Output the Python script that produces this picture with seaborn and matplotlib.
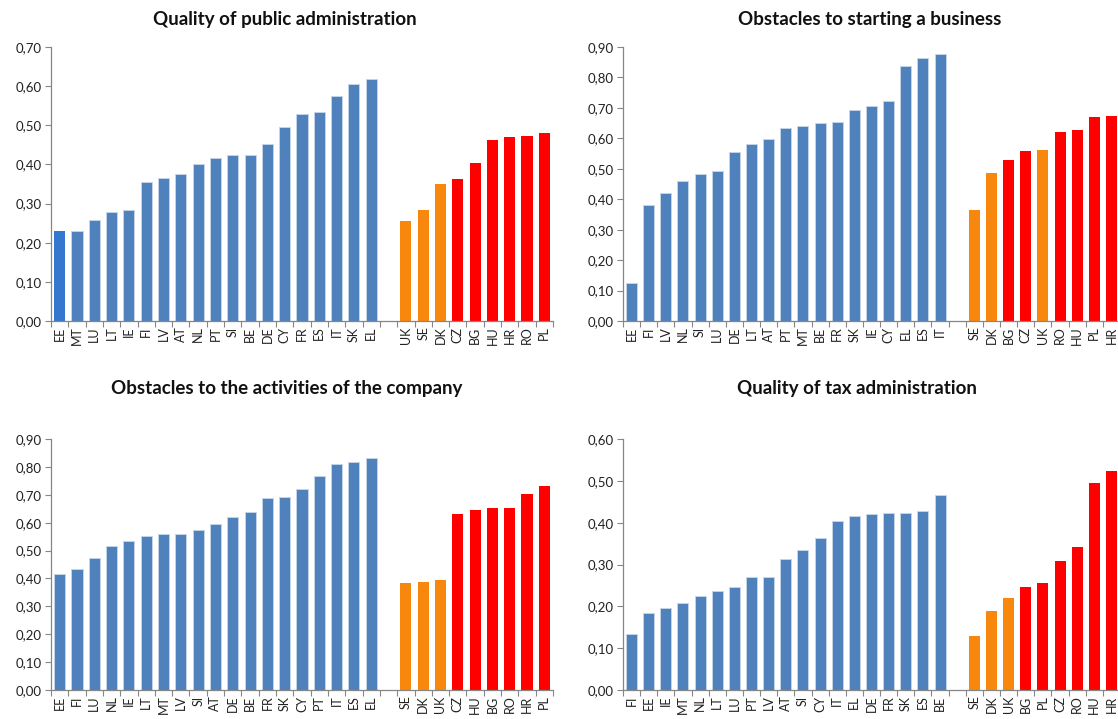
import matplotlib
matplotlib.use("Agg")
import matplotlib.pyplot as plt
import seaborn as sns
import pandas as pd
from matplotlib.ticker import FuncFormatter, MultipleLocator, FixedLocator

sns.set_style("ticks")
plt.rcParams['font.family'] = ['Lato', 'DejaVu Sans']

# ---------------- data ----------------
titles = ["Quality of public administration",
          "Obstacles to starting a business",
          "Obstacles to the activities of the company",
          "Quality of tax administration"]

p1_left = ["EE", "MT", "LU", "LT", "IE", "FI", "LV", "AT", "NL", "PT", "SI", "BE", "DE", "CY", "FR", "ES", "IT", "SK", "EL"]
p1_left_vals = [0.230, 0.231, 0.258, 0.278, 0.284, 0.354, 0.365, 0.376, 0.400, 0.417, 0.424, 0.425, 0.452, 0.495, 0.529, 0.533, 0.576, 0.606, 0.619]
p1_right = ["UK", "SE", "DK", "CZ", "BG", "HU", "HR", "RO", "PL"]
p1_right_vals = [0.255, 0.284, 0.350, 0.363, 0.404, 0.463, 0.470, 0.473, 0.480]

p2_left = ["EE", "FI", "LV", "NL", "SI", "LU", "DE", "LT", "AT", "PT", "MT", "BE", "FR", "SK", "IE", "CY", "EL", "ES", "IT"]
p2_left_vals = [0.124, 0.381, 0.420, 0.459, 0.483, 0.492, 0.555, 0.582, 0.598, 0.633, 0.640, 0.651, 0.655, 0.694, 0.706, 0.724, 0.839, 0.863, 0.878]
p2_right = ["SE", "DK", "BG", "CZ", "UK", "RO", "HU", "PL", "HR"]
p2_right_vals = [0.364, 0.486, 0.529, 0.559, 0.562, 0.621, 0.628, 0.671, 0.674]

p3_left = ["EE", "FI", "LU", "NL", "IE", "LT", "MT", "LV", "SI", "AT", "DE", "BE", "FR", "SK", "CY", "PT", "IT", "ES", "EL"]
p3_left_vals = [0.417, 0.434, 0.475, 0.517, 0.535, 0.551, 0.559, 0.561, 0.572, 0.597, 0.621, 0.640, 0.690, 0.693, 0.720, 0.766, 0.812, 0.818, 0.832]
p3_right = ["SE", "DK", "UK", "CZ", "HU", "BG", "RO", "HR", "PL"]
p3_right_vals = [0.384, 0.388, 0.394, 0.631, 0.644, 0.651, 0.654, 0.704, 0.730]

p4_left = ["FI", "EE", "IE", "MT", "NL", "LT", "LU", "PT", "LV", "AT", "SI", "CY", "IT", "EL", "DE", "FR", "SK", "ES", "BE"]
p4_left_vals = [0.135, 0.184, 0.195, 0.207, 0.224, 0.237, 0.246, 0.269, 0.270, 0.312, 0.334, 0.364, 0.405, 0.416, 0.421, 0.422, 0.422, 0.428, 0.465]
p4_right = ["SE", "DK", "UK", "BG", "PL", "CZ", "RO", "HU", "HR"]
p4_right_vals = [0.129, 0.188, 0.221, 0.247, 0.256, 0.309, 0.342, 0.495, 0.524]

y_max = [0.70, 0.90, 0.90, 0.60]
orange_group = ["SE", "DK", "UK"]
highlight = [("EE", 0)]  # brighter blue bar in first panel

BLUE = "#4F81BD"
BLUE_HI = "#3377CF"
ORANGE = "#F8870E"
RED = "#FF0000"
GRAY = "#868686"

panels = [(p1_left, p1_left_vals, p1_right, p1_right_vals),
          (p2_left, p2_left_vals, p2_right, p2_right_vals),
          (p3_left, p3_left_vals, p3_right, p3_right_vals),
          (p4_left, p4_left_vals, p4_right, p4_right_vals)]

W, H = 1118, 719
fig = plt.figure(figsize=(W / 100, H / 100), dpi=100)

# axes rectangles in pixels: left, top, right, bottom
rects = [(51, 47, 553, 321), (623, 47, 1120, 321),
         (51, 439, 553, 690), (623, 439, 1120, 690)]
title_pos = [(285, 19), (870, 19), (287, 389), (857, 389)]

for i, (lc, lv, rc, rv) in enumerate(panels):
    l, t, r, b = rects[i]
    ax = fig.add_axes([l / W, 1 - b / H, (r - l) / W, (b - t) / H])
    gap = " "
    order = lc + [gap] + rc
    df = pd.DataFrame({"country": lc + rc, "value": lv + rv})
    pal = {}
    for c in lc:
        pal[c] = BLUE
    for c in rc:
        pal[c] = ORANGE if c in orange_group else RED
    for c, pi in highlight:
        if pi == i:
            pal[c] = BLUE_HI
    pal[gap] = BLUE
    sns.barplot(data=df, x="country", y="value", hue="country", order=order,
                hue_order=order, palette=pal, legend=False, width=0.64,
                linewidth=0, saturation=1, ax=ax)
    for p in ax.patches:
        fc = matplotlib.colors.to_hex(p.get_facecolor())
        if fc.lower() == BLUE.lower():
            p.set_edgecolor("#C3D3E8")
            p.set_linewidth(0.7)
    ax.set_xlim(-0.5, len(order) - 0.5)
    ax.set_ylim(0, y_max[i])
    ax.yaxis.set_major_locator(MultipleLocator(0.1))
    ax.yaxis.set_major_formatter(FuncFormatter(lambda v, _: f"{v:.2f}".replace(".", ",")))
    ax.set_xticks(range(len(order)))
    ax.set_xticklabels(order, rotation=90, fontsize=9, color="#222222")
    ax.xaxis.set_minor_locator(FixedLocator([k - 0.5 for k in range(len(order) + 1)]))
    ax.tick_params(axis="x", which="major", length=0, pad=4)
    ax.tick_params(axis="x", which="minor", length=4, color=GRAY, width=0.8)
    ax.tick_params(axis="y", length=4, color=GRAY, width=0.8, labelsize=9.5,
                   labelcolor="#222222", pad=3)
    ax.set_xlabel("")
    ax.set_ylabel("")
    sns.despine(ax=ax)
    for s in ("left", "bottom"):
        ax.spines[s].set_color(GRAY)
        ax.spines[s].set_linewidth(0.9)
    tx, ty = title_pos[i]
    fig.text(tx / W, 1 - ty / H, titles[i], ha="center", va="center",
             fontsize=13.5, fontweight="bold", color="#111111")

fig.savefig("out.png", dpi=100)
